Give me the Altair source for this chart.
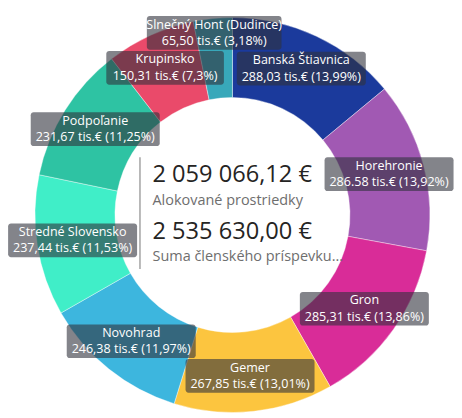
import altair as alt
import pandas as pd

# ---- data ----
regions = ["Banská Štiavnica", "Horehronie", "Gron", "Gemer", "Novohrad",
           "Stredné Slovensko", "Podpoľanie", "Krupinsko", "Slnečný Hont (Dudince)"]
values = [288.03, 286.58, 285.31, 267.85, 246.38, 237.44, 231.67, 150.31, 65.50]
value_labels = ["288,03 tis.€ (13,99%)", "286.58 tis.€ (13,92%)", "285,31 tis.€ (13,86%)",
                "267,85 tis.€ (13,01%)", "246,38 tis.€ (11,97%)", "237,44 tis.€ (11,53%)",
                "231,67 tis.€ (11,25%)", "150,31 tis.€ (7,3%)", "65,50 tis.€ (3,18%)"]
colors = ["#1b3a9c", "#a159b3", "#d92c98", "#fcc53f", "#3db6de",
          "#40eec8", "#2ec3a3", "#ea4a6a", "#38a8ba"]
center_values = ["2 059 066,12 €", "2 535 630,00 €"]
center_captions = ["Alokované prostriedky", "Suma členského príspevku..."]

# ---- layout ----
W, H = 454, 410
CX, CY = 231, 204
R_OUT, R_IN = 205, 122
FONT = "Open Sans"

df = pd.DataFrame({
    "region": regions,
    "value": values,
    "vlabel": value_labels,
    "order": list(range(len(regions))),
})

base = alt.Chart(df)

xs = alt.Scale(domain=[0, W], nice=False, zero=False)
ys = alt.Scale(domain=[0, H], nice=False, zero=False, reverse=True)

donut = base.mark_arc(innerRadius=R_IN, outerRadius=R_OUT, stroke="white", strokeWidth=0.4).encode(
    theta=alt.Theta("value:Q", stack=True),
    order=alt.Order("order:Q"),
    color=alt.Color("region:N", scale=alt.Scale(domain=regions, range=colors), legend=None),
    x=alt.value(CX),
    y=alt.value(CY),
)

lab = base.transform_window(
    cum="sum(value)", sort=[alt.SortField("order")], frame=[None, 0]
).transform_joinaggregate(
    total="sum(value)"
).transform_calculate(
    mid="2*PI*(datum.cum - datum.value/2)/datum.total",
    r="datum.value/datum.total < 0.05 ? 190 : 168",
).transform_calculate(
    px=f"{CX} + datum.r*sin(datum.mid)",
    py=f"{CY} - datum.r*cos(datum.mid)",
    hw="(max(length(datum.region), length(datum.vlabel))*5.9 + 10)/2",
).transform_calculate(
    x1="datum.px - datum.hw", x2="datum.px + datum.hw",
    y1="datum.py - 17.5", y2="datum.py + 17.5",
    t1="datum.py - 8.5", t2="datum.py + 8.5",
)

boxes = lab.mark_rect(color="#30323c", opacity=0.6, cornerRadius=3).encode(
    x=alt.X("x1:Q", scale=xs, axis=None),
    x2="x2:Q",
    y=alt.Y("y1:Q", scale=ys, axis=None),
    y2="y2:Q",
)

line1 = lab.mark_text(color="white", font=FONT, fontSize=13, baseline="middle", align="center").encode(
    x=alt.X("px:Q", scale=xs, axis=None),
    y=alt.Y("t1:Q", scale=ys, axis=None),
    text="region:N",
)
line2 = lab.mark_text(color="white", font=FONT, fontSize=13, baseline="middle", align="center").encode(
    x=alt.X("px:Q", scale=xs, axis=None),
    y=alt.Y("t2:Q", scale=ys, axis=None),
    text="vlabel:N",
)

def ctext(t, y, size, color):
    return alt.Chart(pd.DataFrame({"t": [t]})).mark_text(
        font=FONT, fontSize=size, color=color, align="left", baseline="alphabetic"
    ).encode(x=alt.value(148), y=alt.value(y), text="t:N")

c1 = ctext(center_values[0], 170, 24.5, "#252423")
c2 = ctext(center_captions[0], 194, 15, "#6e6e6e")
c3 = ctext(center_values[1], 229, 24.5, "#252423")
c4 = ctext(center_captions[1], 252, 15, "#6e6e6e")

vline = alt.Chart(pd.DataFrame({"a": [0]})).mark_rule(color="#a0a0a0", strokeWidth=1.5).encode(
    x=alt.value(135), y=alt.value(144), y2=alt.value(260)
)

chart = alt.layer(donut, boxes, line1, line2, vline, c1, c2, c3, c4).properties(
    width=W, height=H, padding=0
).configure_view(stroke=None)

chart.save("out.html", embed_options={"renderer": "svg", "actions": False})
